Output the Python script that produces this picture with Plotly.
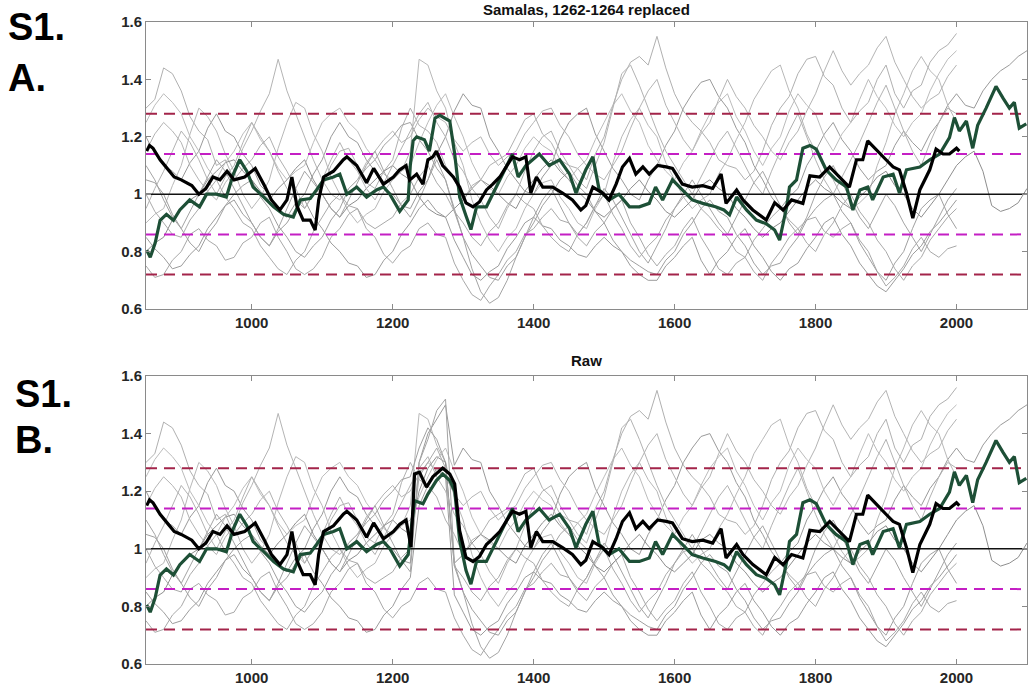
import plotly.graph_objects as go

X_MIN, X_MAX = 850, 2100
Y_MIN, Y_MAX = 0.6, 1.6
X_TICKS = [1000, 1200, 1400, 1600, 1800, 2000]
Y_TICKS = [0.6, 0.8, 1.0, 1.2, 1.4, 1.6]
Y_TICK_TEXT = ["0.6", "0.8", "1", "1.2", "1.4", "1.6"]

TITLE_A = "Samalas, 1262-1264 replaced"
TITLE_B = "Raw"

thresholds_outer = [1.28, 0.72]
thresholds_inner = [1.14, 0.86]
baseline = [1.0]

# Thick black series (raw)
black_years = [851, 855, 860, 870, 880, 890, 900, 915, 925, 935, 945, 955, 965, 975, 990,
               1005, 1018, 1028, 1040, 1050, 1057, 1064, 1073, 1083, 1090, 1095, 1102, 1116,
               1130, 1135, 1149, 1163, 1173, 1187, 1201, 1210, 1219,
               1226, 1231, 1238, 1248, 1257, 1271, 1281, 1288, 1295,
               1304, 1314, 1323, 1333, 1342, 1352, 1361, 1370, 1380, 1389, 1396, 1404, 1413,
               1427, 1441, 1455, 1467, 1474, 1484, 1498, 1507, 1517, 1526, 1536, 1545, 1555,
               1564, 1576, 1588, 1597, 1611, 1625, 1640, 1654, 1666, 1673, 1688, 1697, 1711,
               1730, 1742, 1754, 1766, 1782, 1792, 1806, 1820, 1834, 1848, 1858, 1867, 1874,
               1886, 1900, 1910, 1919, 1929, 1938, 1948, 1962, 1971, 1981, 1990, 2000, 2004]
black_raw = [1.15, 1.17, 1.16, 1.12, 1.09, 1.06, 1.05, 1.03, 1.00, 1.02, 1.06, 1.05, 1.08, 1.05, 1.06,
             1.09, 1.03, 0.98, 0.945, 0.98, 1.06, 0.96, 0.91, 0.91, 0.875, 0.98, 1.06, 1.08,
             1.12, 1.13, 1.10, 1.04, 1.09, 1.035, 1.06, 1.085, 1.10,
             1.006, 1.26, 1.266, 1.214, 1.25, 1.28, 1.26, 1.225, 1.063,
             0.97, 0.956, 0.973, 1.015, 1.035, 1.06, 1.095, 1.13, 1.12, 1.13, 1.004, 1.06, 1.025,
             1.025, 1.004, 0.98, 0.945, 0.96, 1.025, 1.004, 0.98, 1.035, 1.095, 1.125, 1.07, 1.095,
             1.07, 1.10, 1.095, 1.09, 1.035, 1.025, 1.03, 1.02, 1.07, 0.968, 1.015, 0.98, 0.945,
             0.91, 0.97, 0.945, 0.98, 0.968, 1.064, 1.06, 1.095, 1.06, 1.025, 1.12, 1.12, 1.186,
             1.157, 1.12, 1.095, 1.085, 1.004, 0.917, 1.015, 1.085, 1.157, 1.14, 1.14, 1.16, 1.15]
# Samalas-replaced segment for the black series
black_repl_years = [1224, 1234, 1243, 1250, 1257, 1262, 1271, 1286, 1295]
black_repl = [1.049, 1.07, 1.035, 1.12, 1.13, 1.15, 1.10, 1.06, 1.025]

# Thick green series (raw)
green_years = [851, 856, 863, 870, 879, 889, 898, 912, 926, 936, 950, 964, 974, 983, 993,
               1002, 1017, 1031, 1045, 1059, 1069, 1083, 1092, 1102, 1116, 1125, 1135, 1149,
               1163, 1177, 1187, 1196, 1210, 1222,
               1231, 1243, 1250, 1262, 1271, 1281, 1288, 1295,
               1304, 1311, 1319, 1333, 1347, 1361, 1370, 1378, 1389, 1408, 1422, 1437, 1451,
               1460, 1474, 1484, 1493, 1507, 1521, 1536, 1550, 1564, 1573, 1583, 1597, 1611,
               1625, 1640, 1658, 1670, 1678, 1688, 1702, 1716, 1730, 1742, 1749, 1759, 1763,
               1773, 1782, 1792, 1801, 1815, 1829, 1844, 1853, 1863, 1874, 1881, 1896, 1910,
               1919, 1929, 1948, 1962, 1976, 1990, 1997, 2004, 2014, 2023, 2030, 2042, 2056,
               2066, 2075, 2082, 2089, 2099]
green_raw = [0.805, 0.78, 0.83, 0.909, 0.93, 0.909, 0.945, 0.98, 0.956, 1.00, 1.00, 0.99, 1.07, 1.12, 1.08,
             1.025, 0.99, 0.956, 0.93, 0.92, 0.98, 0.985, 1.015, 1.05, 1.06, 1.07, 1.00, 1.025,
             0.99, 1.015, 1.025, 1.00, 0.94, 0.98,
             1.167, 1.156, 1.19, 1.237, 1.26, 1.237, 1.20, 1.03,
             0.925, 0.877, 0.956, 0.956, 1.025, 1.095, 1.14, 1.06, 1.10, 1.14, 1.10, 1.12, 1.07,
             1.004, 1.085, 1.13, 1.015, 0.98, 1.00, 0.956, 0.956, 0.968, 1.025, 0.98, 1.05, 1.015,
             0.98, 0.968, 0.956, 0.945, 0.928, 0.99, 0.945, 0.91, 0.897, 0.875, 0.84, 0.956, 1.025,
             1.05, 1.16, 1.17, 1.157, 1.085, 1.05, 1.025, 0.945, 1.015, 1.025, 0.98, 1.06, 1.07,
             1.004, 1.085, 1.095, 1.12, 1.14, 1.197, 1.267, 1.22, 1.255, 1.16, 1.24, 1.30, 1.376,
             1.335, 1.30, 1.32, 1.23, 1.245]
green_repl_years = [1225, 1229, 1234, 1245, 1252, 1260, 1267, 1281, 1288, 1295]
green_repl = [1.10, 1.186, 1.20, 1.19, 1.15, 1.265, 1.275, 1.255, 1.14, 0.99]

SAMALAS_WINDOW = (1222, 1298)

# Thin grey ensemble members (panel A values), one value every 12.5 years from 850
GRAY_START, GRAY_STEP = 850, 12.5
gray_series = [
    [1.30, 1.33, 1.44, 1.42, 1.36, 1.27, 1.22, 1.19, 1.10, 1.12, 1.05, 1.09, 1.12, 1.17, 1.20, 1.13,
     1.08, 1.02, 0.95, 1.00, 1.02, 1.10, 1.15, 1.16, 1.10, 1.04, 1.02, 1.08, 1.12, 1.23, 1.30, 1.24,
     1.22, 1.18, 1.10, 1.05, 0.98, 1.03, 1.05, 1.10, 1.12, 1.14, 1.20, 1.26, 1.28, 1.21, 1.18, 1.12,
     1.10, 1.09, 1.05, 1.14, 1.20, 1.31, 1.40, 1.46, 1.48, 1.45, 1.55, 1.44, 1.35, 1.29, 1.25, 1.22,
     1.18, 1.12, 1.10, 1.09, 1.05, 1.08, 1.15, 1.24, 1.30, 1.34, 1.42, 1.47, 1.48, 1.41, 1.38, 1.30,
     1.25, 1.29, 1.32, 1.40, 1.45, 1.35, 1.30, 1.36, 1.38, 1.46, 1.50, 1.52, 1.56],
    [0.75, 0.71, 0.72, 0.77, 0.80, 0.86, 0.88, 0.84, 0.82, 0.77, 0.78, 0.83, 0.85, 0.90, 0.92, 0.85,
     0.80, 0.74, 0.72, 0.74, 0.78, 0.85, 0.88, 0.93, 0.95, 0.88, 0.85, 0.79, 0.76, 0.80, 0.82, 0.88,
     0.90, 0.86, 0.85, 0.76, 0.70, 0.65, 0.63, 0.68, 0.72, 0.77, 0.80, 0.86, 0.88, 0.92, 0.95, 0.91,
     0.90, 0.85, 0.82, 0.87, 0.90, 0.95, 0.98, 0.90, 0.85, 0.79, 0.75, 0.79, 0.82, 0.88, 0.92, 0.85,
     0.80, 0.74, 0.72, 0.76, 0.78, 0.73, 0.70, 0.76, 0.80, 0.85, 0.88, 0.91, 0.92, 0.87, 0.85, 0.88,
     0.90, 0.84, 0.80, 0.73, 0.68, 0.71, 0.75, 0.81, 0.85, 0.80, 0.78, 0.81, 0.82],
    [1.20, 1.14, 1.10, 1.08, 1.05, 1.11, 1.15, 1.23, 1.28, 1.22, 1.20, 1.14, 1.10, 1.03, 1.00, 0.94,
     0.92, 0.97, 1.00, 1.07, 1.12, 1.20, 1.25, 1.20, 1.18, 1.12, 1.08, 1.02, 1.00, 0.96, 0.95, 1.01,
     1.05, 1.14, 1.20, 1.29, 1.35, 1.31, 1.30, 1.20, 1.15, 1.09, 1.05, 1.01, 1.00, 1.06, 1.10, 1.19,
     1.25, 1.28, 1.30, 1.21, 1.15, 1.09, 1.05, 1.00, 0.98, 1.05, 1.10, 1.17, 1.22, 1.30, 1.35, 1.39,
     1.40, 1.34, 1.30, 1.23, 1.18, 1.10, 1.05, 0.99, 0.95, 0.99, 1.02, 1.10, 1.15, 1.21, 1.25, 1.19,
     1.15, 1.09, 1.05, 1.08, 1.10, 1.17, 1.22, 1.18, 1.15, 1.21, 1.25, 1.31, 1.35, 1.31, 1.30, 1.36,
     1.40, 1.43, 1.45, 1.48, 1.50],
    [0.90, 0.93, 0.95, 1.03, 1.10, 1.21, 1.30, 1.27, 1.22, 1.14, 1.08, 1.00, 0.95, 0.99, 1.05, 1.16,
     1.25, 1.32, 1.30, 1.21, 1.15, 1.06, 1.00, 0.94, 0.90, 0.93, 0.95, 1.01, 1.05, 1.08, 1.15, 1.47,
     1.45, 1.36, 1.30, 1.18, 1.10, 0.98, 0.90, 0.84, 0.80, 0.85, 0.88, 0.95, 1.00, 1.04, 1.05, 0.99,
     0.95, 0.90, 0.88, 0.95, 1.00, 1.11, 1.20, 1.26, 1.30, 1.24, 1.20, 1.11, 1.05, 0.99, 0.95, 0.98,
     1.00, 1.07, 1.12, 1.19, 1.25, 1.33, 1.38, 1.43, 1.45, 1.36, 1.30, 1.21, 1.15, 1.09, 1.05, 0.99,
     0.95, 0.97, 1.00, 1.10, 1.18, 1.28, 1.35, 1.43, 1.48, 1.43, 1.40, 1.31, 1.25],
    [1.05, 1.04, 1.00, 0.93, 0.88, 0.83, 0.80, 0.86, 0.90, 0.96, 1.00, 1.03, 1.05, 0.99, 0.95, 0.89,
     0.85, 0.80, 0.78, 0.82, 0.85, 0.91, 0.95, 1.02, 1.05, 1.09, 1.12, 1.17, 1.20, 1.24, 1.25, 1.19,
     1.15, 1.09, 1.05, 0.94, 0.85, 0.79, 0.75, 0.71, 0.70, 0.75, 0.78, 0.85, 0.90, 0.96, 1.00, 1.05,
     1.08, 1.03, 1.00, 0.94, 0.90, 0.84, 0.80, 0.77, 0.75, 0.73, 0.72, 0.77, 0.80, 0.86, 0.90, 0.95,
     0.98, 0.94, 0.92, 0.86, 0.82, 0.76, 0.72, 0.75, 0.76, 0.81, 0.85, 0.91, 0.95, 0.98, 1.00, 0.94,
     0.90, 0.83, 0.78, 0.73, 0.70, 0.76, 0.80, 0.88, 0.95, 0.98, 1.00, 0.93, 0.88],
    [1.15, 1.21, 1.25, 1.22, 1.18, 1.10, 1.05, 1.01, 0.98, 1.04, 1.08, 1.16, 1.22, 1.29, 1.35, 1.47,
     1.36, 1.28, 1.20, 1.12, 1.05, 1.00, 0.98, 1.02, 1.05, 1.11, 1.15, 1.19, 1.22, 1.18, 1.20, 1.26,
     1.30, 1.27, 1.25, 1.19, 1.15, 1.18, 1.20, 1.14, 1.10, 1.13, 1.15, 1.21, 1.25, 1.29, 1.30, 1.24,
     1.20, 1.14, 1.10, 1.07, 1.05, 1.10, 1.15, 1.23, 1.30, 1.36, 1.40, 1.31, 1.25, 1.19, 1.15, 1.21,
     1.25, 1.33, 1.40, 1.34, 1.30, 1.24, 1.20, 1.15, 1.12, 1.18, 1.22, 1.29, 1.35, 1.43, 1.50, 1.43,
     1.38, 1.42, 1.45, 1.51, 1.55, 1.46, 1.40, 1.34, 1.30, 1.33, 1.35, 1.41, 1.45],
    [0.80, 0.83, 0.85, 0.91, 0.95, 0.98, 1.00, 1.05, 1.08, 1.11, 1.12, 1.08, 1.05, 1.01, 0.98, 1.02,
     1.05, 1.09, 1.12, 1.05, 1.00, 0.95, 0.92, 0.96, 0.98, 1.02, 1.05, 1.08, 1.10, 1.07, 1.05, 0.99,
     0.95, 0.93, 0.92, 0.95, 0.98, 1.02, 1.05, 1.03, 1.00, 0.97, 0.95, 1.01, 1.05, 1.09, 1.12, 1.08,
     1.05, 1.01, 0.98, 0.94, 0.92, 0.95, 0.98, 1.02, 1.05, 1.01, 0.98, 0.94, 0.92, 0.95, 0.98, 1.03,
     1.05, 1.02, 1.00, 0.95, 0.92, 0.88, 0.85, 0.88, 0.90, 0.94, 0.98, 1.02, 1.05, 1.02, 1.00, 0.97,
     0.95, 0.99, 1.02, 1.06, 1.08, 1.03, 1.00, 0.95, 0.92, 0.96, 1.00, 1.05, 1.10, 1.13, 1.15, 1.08,
     0.96, 0.94, 0.95, 0.97, 1.02],
    [1.00, 0.94, 0.90, 0.86, 0.85, 0.91, 0.95, 1.01, 1.05, 0.99, 0.95, 0.90, 0.88, 0.82, 0.78, 0.74,
     0.72, 0.77, 0.80, 0.87, 0.92, 0.97, 1.00, 0.96, 0.95, 0.90, 0.88, 0.90, 0.92, 0.97, 1.00, 1.06,
     1.10, 1.04, 1.00, 0.94, 0.90, 0.85, 0.82, 0.87, 0.90, 0.96, 1.00, 0.97, 0.95, 0.89, 0.85, 0.82,
     0.80, 0.86, 0.90, 0.96, 1.00, 0.93, 0.88, 0.82, 0.78, 0.82, 0.85, 0.91, 0.95, 0.99, 1.00, 0.95,
     0.92, 0.88, 0.85, 0.80, 0.78, 0.84, 0.88, 0.92, 0.95, 0.91, 0.88, 0.83, 0.80, 0.86, 0.90, 0.96,
     1.00, 0.94, 0.90, 0.84, 0.80, 0.74, 0.70, 0.75, 0.78, 0.84, 0.88, 0.92, 0.95],
    [1.25, 1.31, 1.35, 1.32, 1.28, 1.20, 1.15, 1.09, 1.05, 1.11, 1.15, 1.21, 1.25, 1.19, 1.15, 1.09,
     1.05, 1.08, 1.10, 1.18, 1.25, 1.28, 1.30, 1.25, 1.22, 1.16, 1.12, 1.07, 1.05, 1.08, 1.10, 1.18,
     1.25, 1.31, 1.35, 1.27, 1.20, 1.11, 1.05, 1.02, 1.00, 1.06, 1.10, 1.16, 1.20, 1.17, 1.15, 1.09,
     1.05, 1.09, 1.12, 1.19, 1.25, 1.31, 1.35, 1.29, 1.25, 1.17, 1.12, 1.08, 1.05, 1.11, 1.15, 1.22,
     1.28, 1.32, 1.35, 1.27, 1.22, 1.15, 1.10, 1.16, 1.20, 1.29, 1.35, 1.31, 1.28, 1.20, 1.15, 1.21,
     1.25, 1.33, 1.40, 1.34, 1.30, 1.24, 1.20, 1.25, 1.28, 1.36, 1.42, 1.47, 1.50],
    [0.85, 0.81, 0.78, 0.74, 0.75, 0.79, 0.82, 0.88, 0.92, 0.96, 0.98, 0.93, 0.90, 0.85, 0.82, 0.87,
     0.90, 0.95, 0.98, 0.92, 0.88, 0.83, 0.80, 0.76, 0.75, 0.71, 0.72, 0.77, 0.80, 0.86, 0.90, 0.95,
     0.98, 0.94, 0.92, 0.84, 0.78, 0.72, 0.70, 0.73, 0.75, 0.81, 0.85, 0.90, 0.92, 0.89, 0.88, 0.84,
     0.82, 0.79, 0.78, 0.82, 0.85, 0.82, 0.80, 0.75, 0.72, 0.70, 0.70, 0.75, 0.78, 0.82, 0.85, 0.77,
     0.72, 0.77, 0.80, 0.85, 0.88, 0.82, 0.78, 0.73, 0.70, 0.74, 0.76, 0.81, 0.85, 0.90, 0.92, 0.86,
     0.82, 0.76, 0.72, 0.68, 0.66, 0.70, 0.74, 0.79, 0.82, 0.87, 0.90, 0.94, 0.98],
    [0.95, 1.02, 1.08, 1.15, 1.22, 1.18, 1.12, 1.05, 1.00, 1.06, 1.10, 1.18, 1.25, 1.20, 1.15, 1.08,
     1.02, 0.98, 0.95, 1.00, 1.05, 1.12, 1.18, 1.12, 1.08, 1.02, 0.98, 1.04, 1.10, 1.16, 1.22, 1.28,
     1.32, 1.25, 1.20, 1.12, 1.08, 1.02, 0.98, 0.92, 0.88, 0.95, 1.00, 1.08, 1.15, 1.20, 1.22, 1.15,
     1.10, 1.05, 1.02, 1.10, 1.18, 1.30, 1.42, 1.45, 1.38, 1.30, 1.22, 1.15, 1.10, 1.05, 1.00, 1.06,
     1.12, 1.18, 1.22, 1.16, 1.10, 1.04, 1.00, 1.08, 1.15, 1.22, 1.28, 1.20, 1.12, 1.05, 1.00, 1.06,
     1.12, 1.18, 1.25, 1.32, 1.38, 1.30, 1.22, 1.15, 1.10, 1.18, 1.25, 1.30, 1.28],
    [1.10, 1.05, 0.98, 0.92, 0.88, 0.94, 1.00, 1.06, 1.12, 1.08, 1.02, 0.96, 0.90, 0.85, 0.82, 0.88,
     0.95, 1.02, 1.08, 1.04, 1.00, 0.95, 0.92, 0.98, 1.04, 1.10, 1.15, 1.08, 1.02, 0.96, 0.92, 0.98,
     1.05, 1.12, 1.05, 0.95, 0.85, 0.74, 0.66, 0.62, 0.64, 0.70, 0.78, 0.85, 0.92, 0.98, 1.02, 0.96,
     0.90, 0.86, 0.90, 0.96, 1.02, 0.98, 0.92, 0.86, 0.80, 0.76, 0.82, 0.88, 0.95, 1.00, 1.05, 1.00,
     0.95, 0.90, 0.86, 0.92, 0.98, 1.04, 1.08, 1.02, 0.96, 0.90, 0.86, 0.92, 1.00, 1.06, 1.10, 1.04,
     0.98, 0.92, 0.88, 0.94, 1.00, 0.96, 0.90, 0.85, 0.80, 0.86, 0.92, 0.98, 1.02],
]
gray_colors = ["#b0b0b0", "#a8a8a8", "#9a9a9a", "#b8b8b8", "#a0a0a0", "#b4b4b4",
               "#8e8e8e", "#aaaaaa", "#bcbcbc", "#9c9c9c", "#b2b2b2", "#a4a4a4"]
# Raw (panel B) grey values around the Samalas eruption
gray_raw_override = {
    2: {1237.5: 1.30, 1250: 1.40, 1262.5: 1.45, 1275: 1.50},
    4: {1237.5: 1.35, 1250: 1.42, 1262.5: 1.38, 1275: 1.30},
    6: {1237.5: 1.20, 1250: 1.28, 1262.5: 1.32, 1275: 1.30},
    7: {1237.5: 1.25, 1250: 1.30, 1262.5: 1.35, 1275: 1.28},
    9: {1237.5: 1.15, 1250: 1.22, 1262.5: 1.28, 1275: 1.25},
    11: {1237.5: 1.30, 1250: 1.38, 1262.5: 1.48, 1275: 1.52},
}

BLACK = "#000000"
GREEN = "#1d4f36"
OUTER = "#a3244a"
INNER = "#c41fc4"


def merge(years, vals, ryears, rvals, window):
    lo, hi = window
    pts = [(y, v) for y, v in zip(years, vals) if not (lo < y < hi)]
    pts += list(zip(ryears, rvals))
    pts.sort()
    return [p[0] for p in pts], [p[1] for p in pts]


fig = go.Figure()

panels = [("x", "y", True), ("x2", "y2", False)]
for xa, ya, replaced in panels:
    for i, vals in enumerate(gray_series):
        yrs = [GRAY_START + GRAY_STEP * k for k in range(len(vals))]
        v = list(vals)
        if not replaced and i in gray_raw_override:
            for yr, val in gray_raw_override[i].items():
                v[round((yr - GRAY_START) / GRAY_STEP)] = val
        fig.add_trace(go.Scatter(x=yrs, y=v, mode="lines", xaxis=xa, yaxis=ya,
                                 line=dict(color=gray_colors[i], width=1), showlegend=False,
                                 hoverinfo="skip"))
    for t in thresholds_outer:
        fig.add_trace(go.Scatter(x=[X_MIN, X_MAX], y=[t, t], mode="lines", xaxis=xa, yaxis=ya,
                                 line=dict(color=OUTER, width=2, dash="11px,7px"), showlegend=False))
    for t in thresholds_inner:
        fig.add_trace(go.Scatter(x=[X_MIN, X_MAX], y=[t, t], mode="lines", xaxis=xa, yaxis=ya,
                                 line=dict(color=INNER, width=2, dash="11px,7px"), showlegend=False))
    for t in baseline:
        fig.add_trace(go.Scatter(x=[X_MIN, X_MAX], y=[t, t], mode="lines", xaxis=xa, yaxis=ya,
                                 line=dict(color="#111111", width=1.6), showlegend=False))
    if replaced:
        gx, gy = merge(green_years, green_raw, green_repl_years, green_repl, SAMALAS_WINDOW)
        bx, by = merge(black_years, black_raw, black_repl_years, black_repl, SAMALAS_WINDOW)
    else:
        gx, gy = green_years, green_raw
        bx, by = black_years, black_raw
    fig.add_trace(go.Scatter(x=gx, y=gy, mode="lines", xaxis=xa, yaxis=ya,
                             line=dict(color=GREEN, width=3.2), showlegend=False))
    fig.add_trace(go.Scatter(x=bx, y=by, mode="lines", xaxis=xa, yaxis=ya,
                             line=dict(color=BLACK, width=3.2), showlegend=False))

tick_font = dict(family="Liberation Sans, Arial, sans-serif", size=15, color="#262626", weight="bold")
axis_common = dict(showline=True, linecolor="#8a8a8a", linewidth=1, mirror="ticks",
                   ticks="inside", ticklen=5, tickcolor="#8a8a8a", showgrid=False,
                   zeroline=False, tickfont=tick_font, automargin=False)

X_DOM = [146 / 1029, 1027 / 1029]
fig.update_layout(
    width=1029, height=698,
    margin=dict(l=0, r=0, t=0, b=0, autoexpand=False),
    paper_bgcolor="white", plot_bgcolor="white",
    xaxis=dict(domain=X_DOM, range=[X_MIN, X_MAX], tickvals=X_TICKS, anchor="y", **axis_common),
    yaxis=dict(domain=[1 - 309 / 698, 1 - 22 / 698], range=[Y_MIN, Y_MAX], tickvals=Y_TICKS,
               ticktext=Y_TICK_TEXT, anchor="x", **axis_common),
    xaxis2=dict(domain=X_DOM, range=[X_MIN, X_MAX], tickvals=X_TICKS, anchor="y2", **axis_common),
    yaxis2=dict(domain=[1 - 664 / 698, 1 - 376 / 698], range=[Y_MIN, Y_MAX], tickvals=Y_TICKS,
                ticktext=Y_TICK_TEXT, anchor="x2", **axis_common),
)

title_font = dict(family="Liberation Sans, Arial, sans-serif", size=15, color="#111111", weight="bold")
label_font = dict(family="Liberation Sans, Arial, sans-serif", size=38, color="#000000", weight="bold")
cx = (X_DOM[0] + X_DOM[1]) / 2
annotations = [
    dict(text=TITLE_A, x=cx, y=1 - 10 / 698, xref="paper", yref="paper", showarrow=False,
         font=title_font, xanchor="center", yanchor="middle"),
    dict(text=TITLE_B, x=cx, y=1 - 360 / 698, xref="paper", yref="paper", showarrow=False,
         font=title_font, xanchor="center", yanchor="middle"),
    dict(text="S1.", x=6 / 1029, y=1 - 27 / 698, xref="paper", yref="paper", showarrow=False,
         font=label_font, xanchor="left", yanchor="middle"),
    dict(text="A.", x=6 / 1029, y=1 - 78 / 698, xref="paper", yref="paper", showarrow=False,
         font=label_font, xanchor="left", yanchor="middle"),
    dict(text="S1.", x=13 / 1029, y=1 - 394 / 698, xref="paper", yref="paper", showarrow=False,
         font=label_font, xanchor="left", yanchor="middle"),
    dict(text="B.", x=13 / 1029, y=1 - 440 / 698, xref="paper", yref="paper", showarrow=False,
         font=label_font, xanchor="left", yanchor="middle"),
]
fig.update_layout(annotations=annotations)

fig.write_html("out.html", config={"displayModeBar": False},
               post_script="document.body.style.margin='0';")
